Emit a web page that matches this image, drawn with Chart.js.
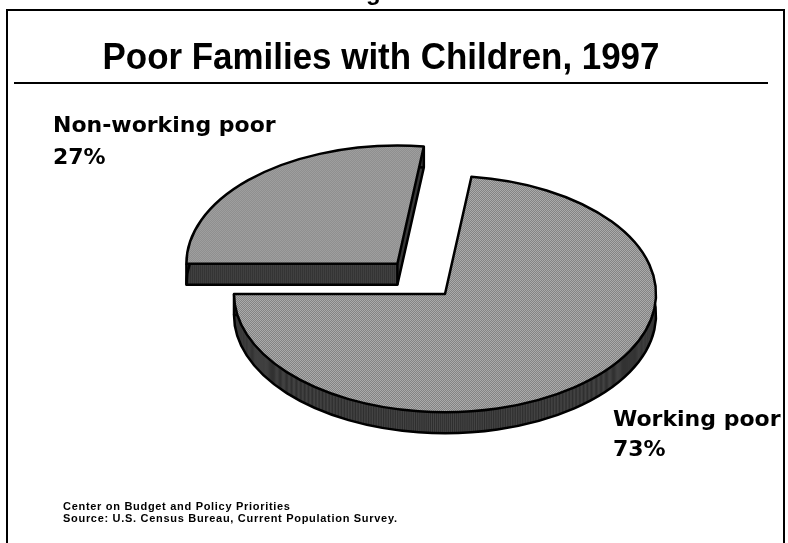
<!DOCTYPE html>
<html>
<head>
<meta charset="utf-8">
<script src="https://cdn.jsdelivr.net/npm/chart.js@4.4.1/dist/chart.umd.min.js"></script>
<style>
  html, body { margin: 0; padding: 0; background: #fff; }
  #wrap { position: relative; width: 788px; height: 543px; overflow: hidden; }
  #pie { position: absolute; left: 0; top: 0; }
  #frame { position: absolute; left: 6px; top: 9px; width: 775px; height: 600px;
           border: 2px solid #000; border-bottom: none; }
  #rule { position: absolute; left: 14px; top: 82px; width: 754px; height: 2px; background: #000; }
  #title { position: absolute; left: 0; top: 39px; width: 762px; text-align: center;
           font: bold 36px/36px "Liberation Sans", Arial, sans-serif; transform: scaleX(0.97); }
  #cut { position: absolute; left: 366px; top: -20px; font: bold 24px/24px "Liberation Sans", Arial, sans-serif; }
  .lbl { position: absolute; font: bold 22px/22px "DejaVu Sans", Verdana, sans-serif; white-space: nowrap; }
  .src { position: absolute; left: 63px; font: bold 11px/11px "Liberation Sans", Arial, sans-serif;
         letter-spacing: 0.7px; white-space: nowrap; }
</style>
</head>
<body>
<div id="wrap">
  <canvas id="pie" width="788" height="543"></canvas>
  <div id="cut">g</div>
  <div id="frame"></div>
  <div id="title">Poor Families with Children, 1997</div>
  <div id="rule"></div>
  <div class="lbl" id="lbl0" style="left:53px; top:114px;"></div>
  <div class="lbl" id="pct0" style="left:53px; top:146px;"></div>
  <div class="lbl" id="lbl1" style="left:613px; top:408px;"></div>
  <div class="lbl" id="pct1" style="left:613px; top:438px;"></div>
  <div class="src" style="top:501px;">Center on Budget and Policy Priorities</div>
  <div class="src" style="top:513px;">Source: U.S. Census Bureau, Current Population Survey.</div>
</div>
<script>
const categories = ['Non-working poor', 'Working poor'];
const shares = [27, 73];

// fake 3D: the pie is flattened into an ellipse and extruded downwards
const cx = 445, cy = 294;
const squash = 0.56;
const depth = 21;

function dither(dark, light) {
  const c = document.createElement('canvas');
  c.width = 2; c.height = 2;
  const g = c.getContext('2d');
  g.fillStyle = light; g.fillRect(0, 0, 2, 2);
  g.fillStyle = dark; g.fillRect(0, 0, 1, 1); g.fillRect(1, 1, 1, 1);
  const pat = g.createPattern(c, 'repeat');
  pat.setTransform(new DOMMatrix([1, 0, 0, 1 / squash, 0, 0]));
  return pat;
}

const topFill = dither('#4a4a4a', '#e4e4e4');
const sideFill = dither('#0a0a0a', '#6a6a6a');

function squashAt(ctx) {
  ctx.translate(cx, cy);
  ctx.scale(1, squash);
  ctx.translate(-cx, -cy);
}

// same geometry chart.js uses for an arc, incl. its offset shift
function slicePath(ctx, arc) {
  const p = arc.getProps(['x', 'y', 'startAngle', 'endAngle', 'outerRadius']);
  const mid = (p.startAngle + p.endAngle) / 2;
  const shift = (arc.options.offset || 0) / 4;
  const x = p.x + Math.cos(mid) * shift;
  const y = p.y + Math.sin(mid) * shift;
  ctx.moveTo(x, y);
  ctx.arc(x, y, p.outerRadius, p.startAngle, p.endAngle);
  ctx.closePath();
  return [
    [x, y],
    [x + Math.cos(p.startAngle) * p.outerRadius, y + Math.sin(p.startAngle) * p.outerRadius],
    [x + Math.cos(p.endAngle) * p.outerRadius, y + Math.sin(p.endAngle) * p.outerRadius]
  ];
}

const toScreenY = y => cy + (y - cy) * squash;

const pie3d = {
  id: 'pie3d',
  beforeDatasetsDraw(chart) {
    const ctx = chart.ctx;
    const arcs = chart.getDatasetMeta(0).data;

    // side walls
    for (let d = depth; d >= 1; d--) {
      ctx.save();
      ctx.translate(0, d);
      squashAt(ctx);
      ctx.fillStyle = sideFill;
      arcs.forEach(arc => {
        ctx.beginPath();
        slicePath(ctx, arc);
        ctx.fill();
      });
      ctx.restore();
    }

    // bottom outline and corner edges
    ctx.save();
    ctx.strokeStyle = '#000';
    ctx.lineWidth = 2.5;
    ctx.lineJoin = 'round';
    arcs.forEach(arc => {
      ctx.save();
      ctx.translate(0, depth);
      squashAt(ctx);
      ctx.beginPath();
      const corners = slicePath(ctx, arc);
      ctx.restore();
      ctx.stroke();
      corners.forEach(([x, y]) => {
        ctx.beginPath();
        ctx.moveTo(x, toScreenY(y));
        ctx.lineTo(x, toScreenY(y) + depth);
        ctx.stroke();
      });
    });
    ctx.restore();

    // top faces get drawn by chart.js in the flattened space
    ctx.save();
    squashAt(ctx);
  },
  afterDatasetsDraw(chart) {
    const ctx = chart.ctx;
    ctx.restore();
    ctx.save();
    ctx.strokeStyle = '#000';
    ctx.lineWidth = 2.5;
    ctx.lineJoin = 'round';
    chart.getDatasetMeta(0).data.forEach(arc => {
      ctx.save();
      squashAt(ctx);
      ctx.beginPath();
      slicePath(ctx, arc);
      ctx.restore();
      ctx.stroke();
    });
    ctx.restore();
  }
};

new Chart(document.getElementById('pie'), {
  type: 'pie',
  data: {
    labels: categories,
    datasets: [{
      data: shares,
      backgroundColor: topFill,
      borderWidth: 0,
      offset: [288, 0],
      radius: 211,
      clip: false
    }]
  },
  options: {
    responsive: false,
    animation: false,
    events: [],
    rotation: -90,
    radius: 211,
    layout: { padding: { left: 102, top: 45, right: 0, bottom: 0 } },
    plugins: {
      legend: { display: false },
      tooltip: { enabled: false }
    }
  },
  plugins: [pie3d]
});

categories.forEach((name, i) => {
  document.getElementById('lbl' + i).textContent = name;
  document.getElementById('pct' + i).textContent = shares[i] + '%';
});
</script>
</body>
</html>
